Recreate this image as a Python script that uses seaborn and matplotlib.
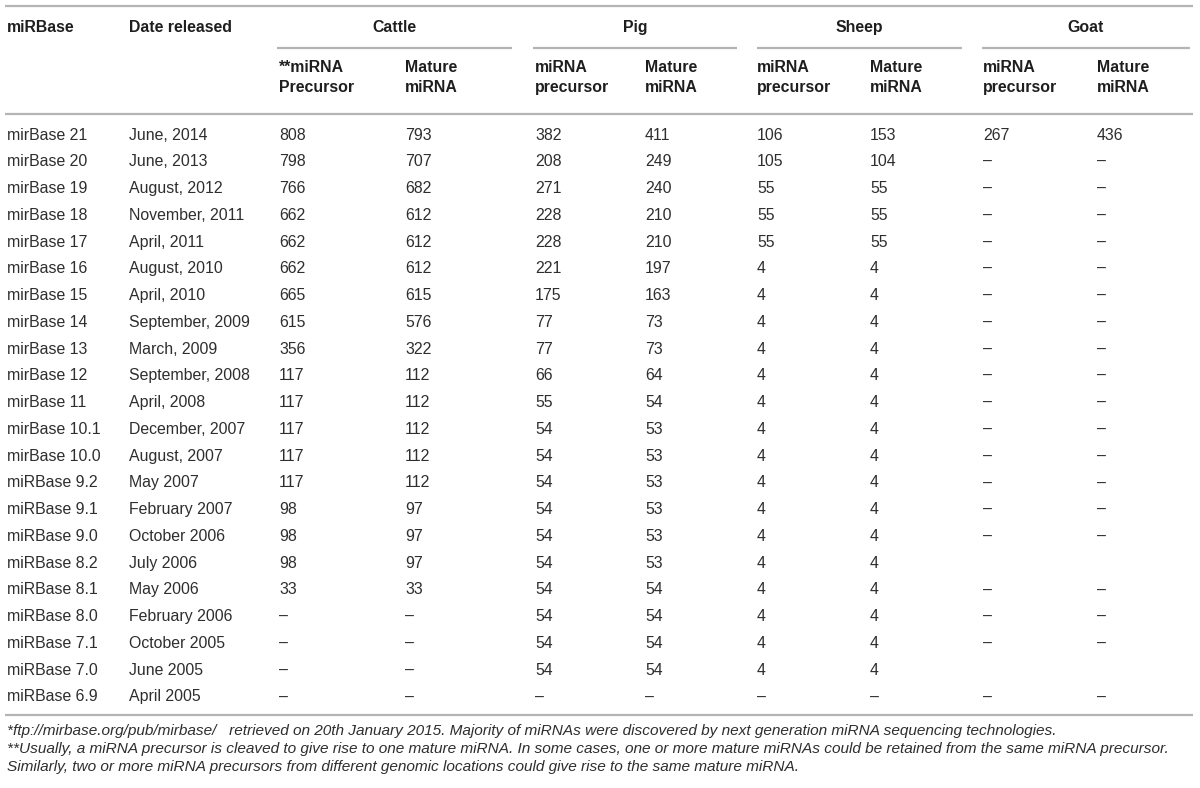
import matplotlib
matplotlib.use("Agg")
import matplotlib.pyplot as plt
import seaborn as sns

# ---------------- data ----------------
versions = ["mirBase 21", "mirBase 20", "mirBase 19", "mirBase 18", "mirBase 17",
            "mirBase 16", "mirBase 15", "mirBase 14", "mirBase 13", "mirBase 12",
            "mirBase 11", "mirBase 10.1", "mirBase 10.0", "miRBase 9.2", "miRBase 9.1",
            "miRBase 9.0", "miRBase 8.2", "miRBase 8.1", "miRBase 8.0", "miRBase 7.1",
            "miRBase 7.0", "miRBase 6.9"]
dates = ["June, 2014", "June, 2013", "August, 2012", "November, 2011", "April, 2011",
         "August, 2010", "April, 2010", "September, 2009", "March, 2009", "September, 2008",
         "April, 2008", "December, 2007", "August, 2007", "May 2007", "February 2007",
         "October 2006", "July 2006", "May 2006", "February 2006", "October 2005",
         "June 2005", "April 2005"]
D = "–"
cattle_precursor = ["808", "798", "766", "662", "662", "662", "665", "615", "356", "117", "117",
                    "117", "117", "117", "98", "98", "98", "33", D, D, D, D]
cattle_mature = ["793", "707", "682", "612", "612", "612", "615", "576", "322", "112", "112",
                 "112", "112", "112", "97", "97", "97", "33", D, D, D, D]
pig_precursor = ["382", "208", "271", "228", "228", "221", "175", "77", "77", "66", "55",
                 "54", "54", "54", "54", "54", "54", "54", "54", "54", "54", D]
pig_mature = ["411", "249", "240", "210", "210", "197", "163", "73", "73", "64", "54",
              "53", "53", "53", "53", "53", "53", "54", "54", "54", "54", D]
sheep_precursor = ["106", "105", "55", "55", "55", "4", "4", "4", "4", "4", "4",
                   "4", "4", "4", "4", "4", "4", "4", "4", "4", "4", D]
sheep_mature = ["153", "104", "55", "55", "55", "4", "4", "4", "4", "4", "4",
                "4", "4", "4", "4", "4", "4", "4", "4", "4", "4", D]
goat_precursor = ["267", D, D, D, D, D, D, D, D, D, D,
                  D, D, D, D, D, "", D, D, D, "", D]
goat_mature = ["436", D, D, D, D, D, D, D, D, D, D,
               D, D, D, D, D, "", D, D, D, "", D]

top_headers = ["miRBase", "Date released"]
groups = ["Cattle", "Pig", "Sheep", "Goat"]
sub_headers = [("**miRNA", "Precursor"), ("Mature", "miRNA"),
               ("miRNA", "precursor"), ("Mature", "miRNA"),
               ("miRNA", "precursor"), ("Mature", "miRNA"),
               ("miRNA", "precursor"), ("Mature", "miRNA")]
footnotes = [
    "*ftp://mirbase.org/pub/mirbase/   retrieved on 20th January 2015. Majority of miRNAs were discovered by next generation miRNA sequencing technologies.",
    "**Usually, a miRNA precursor is cleaved to give rise to one mature miRNA. In some cases, one or more mature miRNAs could be retained from the same miRNA precursor.",
    "Similarly, two or more miRNA precursors from different genomic locations could give rise to the same mature miRNA.",
]

# ---------------- layout ----------------
W, H = 1200, 788
sns.set_theme(style="white")
plt.rcParams["font.family"] = ["Liberation Sans", "DejaVu Sans"]

fig = plt.figure(figsize=(W / 100, H / 100), dpi=100)
ax = fig.add_axes([0, 0, 1, 1])
ax.set_xlim(0, W)
ax.set_ylim(H, 0)
ax.axis("off")

col_x = [7, 129, 279, 405, 535, 645, 757, 870, 983, 1097]
group_spans = [(277, 512), (533, 737), (757, 962), (982, 1190)]
line_color = "#b4b4b4"
txt_color = "#2e2e2e"
hdr_color = "#1e1e1e"
fs = 11.4
fs_foot = 11.1

y_top_line = 6
y_group = 27
y_group_line = 48
y_sub1, y_sub2 = 67, 87
y_hdr_line = 114
y_row0, row_h = 135, 26.76
y_bottom_line = 715
y_foot = [731, 749, 767]

# rules
for y in (y_top_line, y_hdr_line, y_bottom_line):
    ax.plot([5, 1193], [y, y], color=line_color, lw=1.6, solid_capstyle="butt")
for (x0, x1) in group_spans:
    ax.plot([x0, x1], [y_group_line, y_group_line], color=line_color, lw=1.6,
            solid_capstyle="butt")

# headers
for i, h in enumerate(top_headers):
    ax.text(col_x[i], y_group, h, fontsize=fs, fontweight="bold", color=hdr_color,
            va="center", ha="left")
for g, (x0, x1) in zip(groups, group_spans):
    ax.text((x0 + x1) / 2, y_group, g, fontsize=fs, fontweight="bold", color=hdr_color,
            va="center", ha="center")
for j, (a, b) in enumerate(sub_headers):
    ax.text(col_x[2 + j], y_sub1, a, fontsize=fs, fontweight="bold", color=hdr_color,
            va="center", ha="left")
    ax.text(col_x[2 + j], y_sub2, b, fontsize=fs, fontweight="bold", color=hdr_color,
            va="center", ha="left")

# body
columns = [versions, dates, cattle_precursor, cattle_mature, pig_precursor, pig_mature,
           sheep_precursor, sheep_mature, goat_precursor, goat_mature]
for r in range(len(versions)):
    y = y_row0 + r * row_h
    for c, col in enumerate(columns):
        val = col[r]
        if val == "":
            continue
        ax.text(col_x[c], y, val, fontsize=fs, color=txt_color, va="center", ha="left")

# footnotes
for t, y in zip(footnotes, y_foot):
    ax.text(7, y, t, fontsize=fs_foot, style="italic", color=txt_color, va="center", ha="left")

fig.savefig("out.png", dpi=100, facecolor="white")
